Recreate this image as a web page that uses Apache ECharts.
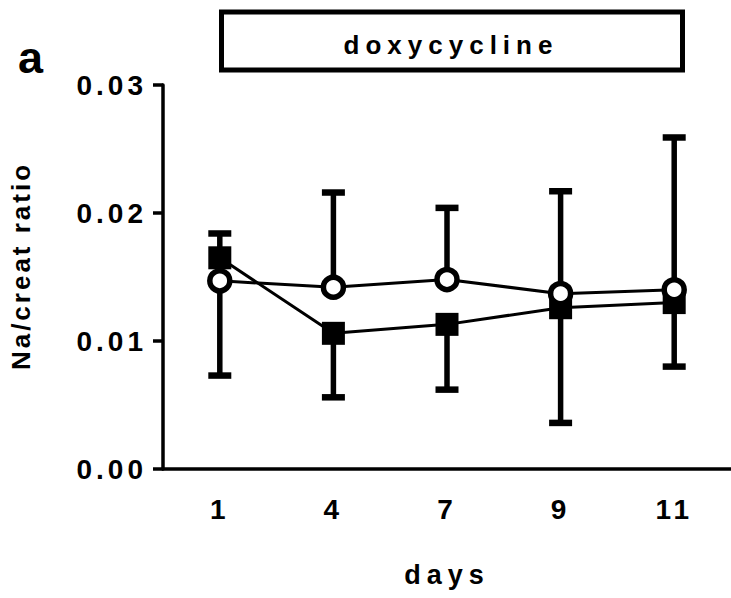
<!DOCTYPE html>
<html>
<head>
<meta charset="utf-8">
<script src="https://cdn.jsdelivr.net/npm/echarts@6/dist/echarts.min.js"></script>
<style>
  html, body { margin: 0; padding: 0; background: #fff; }
  #main { width: 731px; height: 598px; }
</style>
</head>
<body>
<div id="main"></div>
<script>
// ---- data ----
const days = ['1', '4', '7', '9', '11'];
const circleMean  = [0.0147, 0.0142, 0.0148, 0.0137, 0.0140];
const circleUpper = [0.0184, 0.0216, 0.0204, 0.0217, 0.0259];
const squareMean  = [0.0165, 0.0106, 0.0113, 0.0126, 0.0130];
const squareLower = [0.0073, 0.0056, 0.0062, 0.0036, 0.0080];
const yTicks = [0, 0.01, 0.02, 0.03];

const FONT = '"Liberation Sans", Arial, sans-serif';

function errData(mean, end) {
  return mean.map((m, i) => [i, m, end[i]]);
}
function renderErr(params, api) {
  const x = api.value(0), m = api.value(1), e = api.value(2);
  const p1 = api.coord([x, m]);
  const p2 = api.coord([x, e]);
  return {
    type: 'group',
    children: [
      { type: 'line', shape: { x1: p1[0], y1: p1[1], x2: p2[0], y2: p2[1] },
        style: { stroke: '#000', lineWidth: 5.5 } },
      { type: 'line', shape: { x1: p2[0] - 11.5, y1: p2[1], x2: p2[0] + 11.5, y2: p2[1] },
        style: { stroke: '#000', lineWidth: 6.5 } }
    ]
  };
}

const chart = echarts.init(document.getElementById('main'), null, { renderer: 'svg' });
chart.setOption({
  animation: false,
  backgroundColor: '#fff',
  grid: { left: 162, top: 85, width: 575, height: 384 },
  xAxis: {
    type: 'category',
    data: days,
    boundaryGap: true,
    axisLine: { lineStyle: { color: '#000', width: 3.5 } },
    axisTick: { alignWithLabel: true, length: 10, lineStyle: { color: '#000', width: 3.5 } },
    axisLabel: { color: '#000', fontFamily: FONT, fontWeight: 'bold', fontSize: 28, margin: 26 },
    splitLine: { show: false },
    name: 'days',
    nameLocation: 'middle',
    nameGap: 92,
    nameTextStyle: { color: '#000', fontFamily: FONT, fontWeight: 'bold', fontSize: 27 }
  },
  yAxis: {
    type: 'value',
    min: yTicks[0],
    max: yTicks[yTicks.length - 1],
    interval: 0.01,
    axisLine: { show: true, lineStyle: { color: '#000', width: 3.5 } },
    axisTick: { show: true, length: 10, lineStyle: { color: '#000', width: 3.5 } },
    axisLabel: { color: '#000', fontFamily: FONT, fontWeight: 'bold', fontSize: 28, margin: 16,
      formatter: v => v.toFixed(2) },
    splitLine: { show: false },
    name: 'Na/creat ratio',
    nameLocation: 'middle',
    nameRotate: 90,
    nameGap: 129,
    nameTextStyle: { color: '#000', fontFamily: FONT, fontWeight: 'bold', fontSize: 26,
      padding: [0, 0, 0, 22] }
  },
  graphic: [
    { type: 'rect', z: 10,
      shape: { width: 461, height: 58 },
      style: { fill: '#fff', stroke: '#000', lineWidth: 5 },
      x: 221.5, y: 12 },
    { type: 'text', z: 11, x: 451, y: 58,
      style: { text: 'doxycycline', fill: '#000', font: 'bold 26px ' + FONT,
        textAlign: 'center', textVerticalAlign: 'bottom' } },
    { type: 'text', z: 11, x: 18, y: 80,
      style: { text: 'a', fill: '#000', font: 'bold 45px ' + FONT,
        textAlign: 'left', textVerticalAlign: 'bottom' } }
  ],
  series: [
    { type: 'custom', renderItem: renderErr, data: errData(squareMean, squareLower), z: 1, silent: true },
    { type: 'custom', renderItem: renderErr, data: errData(circleMean, circleUpper), z: 1, silent: true },
    { type: 'line', data: squareMean, z: 2, symbol: 'rect', symbolSize: 23,
      lineStyle: { color: '#000', width: 3 },
      itemStyle: { color: '#000', borderWidth: 0 } },
    { type: 'line', data: circleMean, z: 3, symbol: 'circle', symbolSize: 20,
      lineStyle: { color: '#000', width: 3 },
      itemStyle: { color: '#fff', borderColor: '#000', borderWidth: 5.5 } }
  ]
});

function spaceLetters() {
  document.querySelectorAll('#main text').forEach(t => {
    const s = t.textContent;
    if (s === 'doxycycline' || s === 'days') t.style.letterSpacing = '6px';
    else if (s === 'Na/creat ratio') t.style.letterSpacing = '3px';
    else if (s === 'a') t.style.letterSpacing = '0px';
    else t.style.letterSpacing = '4px';
  });
}
chart.on('finished', spaceLetters);
spaceLetters();
</script>
</body>
</html>
